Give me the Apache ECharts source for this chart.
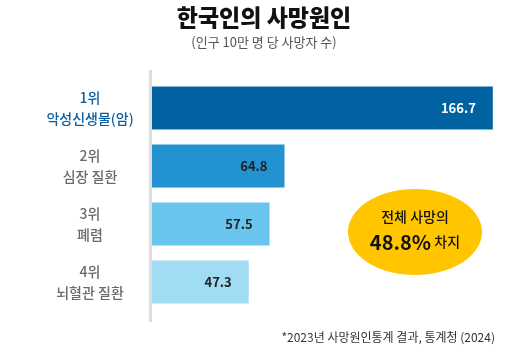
<!DOCTYPE html>
<html>
<head>
<meta charset="utf-8">
<script src="https://cdn.jsdelivr.net/npm/echarts@6/dist/echarts.min.js"></script>
<style>
  html, body { margin: 0; padding: 0; background: #fff; }
  #chart { width: 528px; height: 351px; }
</style>
</head>
<body>
<div id="chart"></div>
<script>
const ranks = ['1위', '2위', '3위', '4위'];
const causes = ['악성신생물(암)', '심장 질환', '폐렴', '뇌혈관 질환'];
const deaths = [166.7, 64.8, 57.5, 47.3];
const barColors = ['#0062a0', '#2292d1', '#69c5ed', '#a0dcf4'];
const labelColors = ['#ffffff', '#222222', '#222222', '#222222'];

const FONT = '"Noto Sans CJK KR", "Noto Sans", sans-serif';

const chart = echarts.init(document.getElementById('chart'));

// first category sits on top
const cats = ranks.map((r, i) => r + '\n' + causes[i]);

chart.setOption({
  animation: false,
  textStyle: { fontFamily: FONT },
  title: [
    {
      text: '한국인의 사망원인',
      left: 'center',
      top: 1,
      textStyle: { fontSize: 23, fontWeight: 900, color: '#111', fontFamily: FONT },
    },
    {
      text: '(인구 10만 명 당 사망자 수)',
      left: 'center',
      top: 31,
      textStyle: { fontSize: 13, fontWeight: 'normal', color: '#555', fontFamily: FONT },
    },
  ],
  grid: { left: 152, right: 8, top: 79, bottom: 40, containLabel: false },
  xAxis: {
    type: 'value',
    min: 0,
    max: 180,
    show: false,
  },
  yAxis: {
    type: 'category',
    data: cats,
    inverse: true,
    axisLine: { show: false },
    axisTick: { show: false },
    axisLabel: {
      align: 'center',
      margin: 62,
      lineHeight: 21,
      fontSize: 14,
      fontWeight: 500,
      fontFamily: FONT,
      color: (v, i) => (i === 0 ? '#0a60a2' : '#6b6b6b'),
    },
  },
  series: [
    {
      type: 'bar',
      barWidth: 43,
      data: deaths.map((v, i) => ({
        value: v,
        itemStyle: { color: barColors[i] },
        label: { color: labelColors[i] },
      })),
      label: {
        show: true,
        position: 'insideRight',
        distance: 17,
        fontSize: 13,
        fontWeight: 'bold',
        fontFamily: FONT,
      },
    },
  ],
  graphic: [
    {
      type: 'line',
      shape: { x1: 150.5, y1: 70, x2: 150.5, y2: 322 },
      style: { stroke: '#dddddd', lineWidth: 3 },
      z: 10,
    },
    {
      type: 'circle',
      x: 415,
      y: 232,
      scaleX: 67 / 43,
      shape: { cx: 0, cy: 0, r: 43 },
      style: { fill: '#ffc600' },
    },
    {
      type: 'text',
      x: 415,
      y: 217,
      style: {
        text: '전체 사망의',
        fontSize: 14,
        fontWeight: 500,
        fontFamily: FONT,
        fill: '#111',
        textAlign: 'center',
        textVerticalAlign: 'middle',
      },
    },
    {
      type: 'text',
      x: 415,
      y: 242,
      style: {
        text: '{b|48.8%} {n|차지}',
        textAlign: 'center',
        textVerticalAlign: 'middle',
        rich: {
          b: { fontSize: 20, fontWeight: 'bold', fontFamily: FONT, fill: '#111' },
          n: { fontSize: 14, fontWeight: 500, fontFamily: FONT, fill: '#111' },
        },
      },
    },
    {
      type: 'text',
      right: 33,
      top: 331,
      style: {
        text: '*2023년 사망원인통계 결과, 통계청 (2024)',
        fontSize: 12,
        fontFamily: FONT,
        fill: '#333',
      },
    },
  ],
});
</script>
</body>
</html>
